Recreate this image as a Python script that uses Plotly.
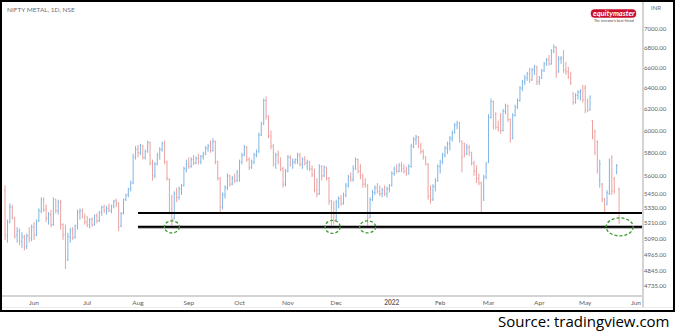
import math
import pandas as pd
import plotly.graph_objects as go

# ---- trading calendar (NSE holidays inside the window) ----
nse_holidays = [
    "2021-07-21", "2021-08-19", "2021-09-10", "2021-10-15", "2021-11-05",
    "2021-11-19", "2022-01-26", "2022-03-01", "2022-03-18", "2022-04-14",
    "2022-04-15", "2022-05-03",
]
dates = [d for d in pd.bdate_range("2021-05-14", "2022-05-23")
         if d.strftime("%Y-%m-%d") not in nse_holidays]

# ---- NIFTY METAL daily OHLC ----
open_ = [
    5480, 5110, 5220, 5340, 5250, 5120, 5150, 5070, 5100, 5030, 5110, 5090, 5180, 5120, 5230, 5310,
    5400, 5320, 5250, 5280, 5200, 5400, 5310, 5380, 5200, 5120, 4930, 5100, 5160, 5100, 5190, 5300,
    5310, 5260, 5220, 5200, 5240, 5200, 5270, 5230, 5300, 5340, 5310, 5330, 5310, 5350, 5390, 5370,
    5190, 5290, 5400, 5440, 5490, 5540, 5760, 5830, 5800, 5860, 5760, 5810, 5890, 5710, 5600, 5700,
    5780, 5830, 5880, 5720, 5570, 5330, 5250, 5450, 5420, 5490, 5520, 5660, 5700, 5680, 5740, 5710,
    5750, 5720, 5770, 5790, 5840, 5860, 5820, 5900, 5720, 5580, 5340, 5440, 5500, 5600, 5530, 5580,
    5560, 5600, 5720, 5780, 5850, 5740, 5670, 5720, 5780, 5810, 5960, 6060, 6280, 6130, 5950, 5860,
    5700, 5780, 5720, 5660, 5530, 5640, 5760, 5700, 5720, 5740, 5780, 5700, 5740, 5710, 5720, 5660,
    5610, 5480, 5450, 5680, 5600, 5670, 5580, 5390, 5260, 5240, 5380, 5410, 5370, 5440, 5520, 5590,
    5570, 5660, 5740, 5640, 5600, 5530, 5520, 5260, 5400, 5460, 5500, 5470, 5450, 5480, 5450, 5490,
    5520, 5620, 5660, 5640, 5690, 5660, 5640, 5620, 5680, 5860, 5920, 5940, 5860, 5810, 5760, 5700,
    5430, 5400, 5510, 5560, 5680, 5720, 5780, 5840, 5880, 5930, 5980, 6050, 6070, 5900, 5880, 5790,
    5850, 5800, 5710, 5640, 5580, 5540, 5400, 5590, 5720, 6120, 6270, 6150, 6030, 6100, 6000, 6180,
    6230, 6100, 5930, 6140, 6220, 6280, 6400, 6460, 6500, 6540, 6480, 6580, 6610, 6460, 6500, 6570,
    6640, 6680, 6640, 6770, 6810, 6560, 6690, 6700, 6580, 6560, 6510, 6350, 6260, 6330, 6360, 6420,
    6400, 6280, 6190, 6090, 5990, 5900, 5560, 5530, 5410, 5360, 5450, 5760, 5580, 5625, 5490,
]
high = [
    5520, 5240, 5370, 5360, 5260, 5180, 5170, 5140, 5120, 5130, 5180, 5200, 5220, 5240, 5330, 5420,
    5420, 5360, 5300, 5320, 5420, 5410, 5400, 5400, 5210, 5200, 5135, 5175, 5180, 5200, 5320, 5330,
    5330, 5290, 5270, 5250, 5260, 5280, 5290, 5310, 5350, 5360, 5350, 5370, 5360, 5400, 5410, 5380,
    5300, 5410, 5450, 5500, 5560, 5790, 5860, 5870, 5880, 5870, 5830, 5910, 5900, 5740, 5720, 5800,
    5850, 5900, 5910, 5730, 5580, 5440, 5470, 5500, 5510, 5530, 5680, 5740, 5760, 5760, 5780, 5770,
    5790, 5780, 5810, 5860, 5880, 5910, 5930, 5910, 5730, 5590, 5460, 5520, 5620, 5610, 5600, 5620,
    5650, 5740, 5800, 5870, 5860, 5760, 5740, 5800, 5830, 5980, 6080, 6300, 6320, 6140, 6000, 5880,
    5800, 5820, 5760, 5680, 5660, 5780, 5780, 5750, 5750, 5800, 5800, 5760, 5770, 5740, 5730, 5690,
    5660, 5580, 5700, 5690, 5690, 5680, 5590, 5400, 5390, 5400, 5430, 5440, 5460, 5540, 5610, 5630,
    5690, 5760, 5750, 5700, 5620, 5580, 5530, 5420, 5480, 5520, 5540, 5520, 5500, 5520, 5510, 5530,
    5640, 5680, 5700, 5710, 5720, 5700, 5680, 5700, 5880, 5940, 5960, 5950, 5890, 5830, 5770, 5710,
    5520, 5530, 5580, 5700, 5740, 5800, 5860, 5900, 5950, 6000, 6070, 6090, 6080, 5910, 5890, 5880,
    5870, 5810, 5730, 5690, 5620, 5550, 5610, 5720, 6150, 6300, 6280, 6170, 6090, 6160, 6200, 6250,
    6240, 6110, 6160, 6240, 6300, 6420, 6480, 6530, 6560, 6600, 6600, 6630, 6620, 6520, 6590, 6660,
    6700, 6730, 6790, 6840, 6820, 6720, 6720, 6780, 6660, 6610, 6560, 6360, 6350, 6380, 6390, 6430,
    6430, 6300, 6330, 6095, 6010, 5910, 5740, 5540, 5415, 5480, 5750, 5780, 5590, 5700, 5500,
]
low = [
    5080, 5060, 5210, 5240, 5090, 5060, 5040, 5020, 5000, 5010, 5060, 5070, 5080, 5110, 5220, 5290,
    5300, 5220, 5200, 5180, 5190, 5290, 5280, 5160, 5080, 4860, 4920, 5060, 5080, 5090, 5160, 5240,
    5250, 5200, 5180, 5170, 5180, 5190, 5210, 5220, 5270, 5290, 5280, 5300, 5290, 5330, 5340, 5150,
    5180, 5280, 5390, 5420, 5470, 5530, 5740, 5760, 5780, 5740, 5740, 5800, 5690, 5560, 5580, 5690,
    5740, 5810, 5700, 5560, 5280, 5190, 5240, 5380, 5400, 5440, 5510, 5630, 5660, 5670, 5690, 5700,
    5700, 5700, 5740, 5780, 5810, 5800, 5810, 5700, 5560, 5300, 5320, 5410, 5480, 5510, 5520, 5540,
    5550, 5550, 5700, 5770, 5720, 5650, 5660, 5700, 5760, 5800, 5950, 6050, 6100, 5930, 5830, 5680,
    5660, 5700, 5640, 5500, 5510, 5630, 5680, 5660, 5700, 5700, 5680, 5660, 5690, 5650, 5640, 5590,
    5460, 5420, 5440, 5560, 5590, 5560, 5360, 5190, 5200, 5230, 5330, 5350, 5360, 5420, 5500, 5550,
    5550, 5650, 5620, 5570, 5500, 5500, 5190, 5250, 5390, 5440, 5450, 5430, 5420, 5430, 5420, 5460,
    5510, 5600, 5620, 5630, 5630, 5620, 5600, 5610, 5670, 5840, 5870, 5840, 5790, 5740, 5690, 5400,
    5370, 5390, 5470, 5550, 5620, 5700, 5760, 5790, 5820, 5900, 5970, 6010, 5890, 5630, 5760, 5780,
    5770, 5690, 5600, 5540, 5520, 5300, 5390, 5570, 5710, 6110, 6010, 6010, 5990, 5970, 5990, 6150,
    6080, 5890, 5920, 6130, 6200, 6270, 6370, 6430, 6470, 6450, 6470, 6530, 6430, 6430, 6490, 6560,
    6620, 6620, 6630, 6750, 6500, 6550, 6640, 6550, 6530, 6490, 6430, 6240, 6250, 6290, 6280, 6260,
    6160, 6170, 6185, 5920, 5780, 5620, 5500, 5380, 5295, 5355, 5440, 5440, 5450, 5615, 5205,
]
close = [
    5120, 5220, 5340, 5260, 5110, 5150, 5070, 5110, 5030, 5110, 5090, 5180, 5120, 5230, 5310, 5400,
    5320, 5250, 5280, 5200, 5400, 5310, 5380, 5200, 5120, 4920, 5110, 5160, 5100, 5190, 5300, 5310,
    5260, 5220, 5200, 5240, 5200, 5270, 5230, 5300, 5340, 5310, 5330, 5310, 5350, 5390, 5370, 5180,
    5290, 5400, 5440, 5490, 5540, 5760, 5830, 5800, 5860, 5760, 5810, 5890, 5710, 5600, 5700, 5780,
    5830, 5880, 5720, 5580, 5300, 5240, 5450, 5420, 5490, 5520, 5660, 5700, 5680, 5740, 5710, 5750,
    5720, 5770, 5790, 5840, 5860, 5820, 5900, 5720, 5580, 5340, 5440, 5500, 5600, 5530, 5580, 5560,
    5630, 5720, 5780, 5850, 5740, 5670, 5720, 5780, 5810, 5960, 6060, 6280, 6130, 5950, 5860, 5700,
    5780, 5720, 5660, 5530, 5640, 5760, 5700, 5720, 5740, 5780, 5700, 5740, 5710, 5720, 5660, 5610,
    5480, 5450, 5680, 5600, 5670, 5580, 5390, 5260, 5230, 5380, 5410, 5370, 5440, 5520, 5590, 5570,
    5660, 5740, 5640, 5600, 5530, 5520, 5250, 5400, 5460, 5500, 5470, 5450, 5480, 5450, 5490, 5520,
    5620, 5660, 5640, 5690, 5660, 5640, 5620, 5680, 5860, 5920, 5940, 5860, 5810, 5760, 5700, 5430,
    5400, 5510, 5560, 5680, 5720, 5780, 5840, 5880, 5930, 5980, 6050, 6070, 5910, 5760, 5790, 5850,
    5800, 5710, 5640, 5580, 5540, 5380, 5590, 5700, 6120, 6270, 6040, 6030, 6010, 6000, 6180, 6230,
    6100, 5930, 6140, 6220, 6280, 6400, 6460, 6500, 6540, 6480, 6580, 6610, 6460, 6500, 6570, 6640,
    6680, 6640, 6770, 6810, 6560, 6690, 6700, 6580, 6560, 6510, 6450, 6260, 6330, 6360, 6370, 6290,
    6190, 6190, 6310, 5940, 5800, 5650, 5700, 5400, 5320, 5460, 5720, 5470, 5470, 5690, 5230,
]

# ---- drawn support band and its touches ----
support_upper = 5293
support_lower = 5182
support_start = "2021-08-02"
touch_dates = ["2021-08-23", "2021-11-29 12:00", "2021-12-20", "2022-05-23 06:00"]
touch_sizes = [(15, 12), (15, 13), (16, 12), (27, 18)]

# ---- axis ticks ----
y_ticks = [4735, 4845, 4965, 5090, 5210, 5330, 5450, 5600, 5800, 6000, 6200, 6400, 6600, 6800, 7000]
month_ticks = ["2021-06-01", "2021-07-01", "2021-08-02", "2021-09-01", "2021-10-01", "2021-11-01",
               "2021-12-01", "2022-01-03", "2022-02-01", "2022-03-02", "2022-04-01", "2022-05-02",
               "2022-06-01"]
month_labels = ["Jun", "Jul", "Aug", "Sep", "Oct", "Nov", "Dec", "<b>2022</b>", "Feb", "Mar",
                "Apr", "May", "Jun"]

UP = "#7fb6e6"
DOWN = "#eca0a0"
W, H = 675, 332
ML, MR, MT, MB = 2, 32, 2, 37
PW, PH = W - ML - MR, H - MT - MB
Y_RANGE = [math.log10(4672), math.log10(7295)]
X_RANGE = ["2021-05-12 18:00", "2022-06-03 21:30"]


def px(x):
    return (x - ML) / PW


def py(y):
    return (H - MB - y) / PH


def price_to_paper(p):
    return (math.log10(p) - Y_RANGE[0]) / (Y_RANGE[1] - Y_RANGE[0])


def rounded_rect(x0, y0, x1, y1, r):
    """SVG path (paper coords) for a pill-shaped badge given pixel corners."""
    rx, ry = r / PW, r / PH
    a, b, c, d = px(x0), px(x1), py(y1), py(y0)
    return (f"M{a + rx},{c} L{b - rx},{c} Q{b},{c} {b},{c + ry} L{b},{d - ry} "
            f"Q{b},{d} {b - rx},{d} L{a + rx},{d} Q{a},{d} {a},{d - ry} "
            f"L{a},{c + ry} Q{a},{c} {a + rx},{c} Z")


fig = go.Figure(go.Ohlc(
    x=dates, open=open_, high=high, low=low, close=close,
    increasing=dict(line=dict(color=UP, width=1)),
    decreasing=dict(line=dict(color=DOWN, width=1)),
    tickwidth=0.35, hoverinfo="skip",
))

shapes = [
    # support lines
    dict(type="line", xref="x", yref="paper", x0=support_start, x1=X_RANGE[1],
         y0=price_to_paper(support_upper), y1=price_to_paper(support_upper),
         line=dict(color="black", width=2)),
    dict(type="line", xref="x", yref="paper", x0=support_start, x1=X_RANGE[1],
         y0=price_to_paper(support_lower), y1=price_to_paper(support_lower),
         line=dict(color="#777", width=3)),
    dict(type="line", xref="x", yref="paper", x0=support_start, x1=X_RANGE[1],
         y0=price_to_paper(support_lower), y1=price_to_paper(support_lower),
         line=dict(color="black", width=1.6)),
    # pane separators
    dict(type="line", xref="paper", yref="paper", x0=1, x1=1, y0=py(2), y1=py(308),
         line=dict(color="#d4d4d4", width=2)),
    dict(type="line", xref="paper", yref="paper", x0=px(2), x1=px(673), y0=py(307.5), y1=py(307.5),
         line=dict(color="#ececec", width=1)),
    # outer frame
    dict(type="rect", xref="paper", yref="paper", x0=px(1), x1=px(674), y0=py(311), y1=py(1),
         line=dict(color="black", width=2)),
    # logo badge
    dict(type="path", xref="paper", yref="paper", path=rounded_rect(591, 9.5, 636, 17.5, 3.5),
         line=dict(color="#c8102e", width=0.5), fillcolor="#c8102e"),
]
for d, (w, h) in zip(touch_dates, touch_sizes):
    shapes.append(dict(
        type="circle", xref="x", yref="paper", xsizemode="pixel", ysizemode="pixel",
        xanchor=d, yanchor=price_to_paper(support_lower),
        x0=-w / 2, x1=w / 2, y0=-h / 2, y1=h / 2,
        line=dict(color="#3a9a2c", width=1.3, dash="3px,2px"),
    ))

annotations = [
    dict(x=px(5), y=py(9), xref="paper", yref="paper", xanchor="left", yanchor="middle",
         text="NIFTY METAL, 1D, NSE", showarrow=False, font=dict(size=6.5, color="#707070")),
    dict(x=px(649), y=py(7.5), xref="paper", yref="paper", xanchor="left", yanchor="middle",
         text="INR", showarrow=False, font=dict(size=6, color="#707070")),
    dict(x=px(613.5), y=py(13.3), xref="paper", yref="paper", xanchor="center", yanchor="middle",
         text="<b><i>equitymaster</i></b>", showarrow=False, font=dict(size=7.5, color="white")),
    dict(x=px(613.5), y=py(20.5), xref="paper", yref="paper", xanchor="center", yanchor="middle",
         text="The investor's best friend", showarrow=False, font=dict(size=3.6, color="#444")),
    dict(x=px(672), y=py(321.5), xref="paper", yref="paper", xanchor="right", yanchor="middle",
         text="Source: tradingview.com", showarrow=False,
         font=dict(size=15, color="black", family="Open Sans")),
]

fig.update_layout(
    width=W, height=H, margin=dict(l=ML, r=MR, t=MT, b=MB),
    paper_bgcolor="white", plot_bgcolor="white", showlegend=False,
    font=dict(family="Lato", size=6.5, color="#606060"),
    shapes=shapes, annotations=annotations,
)
fig.update_xaxes(
    type="date", range=X_RANGE,
    rangebreaks=[dict(bounds=["sat", "mon"]), dict(values=nse_holidays)],
    rangeslider=dict(visible=False),
    tickmode="array", tickvals=month_ticks, ticktext=month_labels,
    showgrid=False, zeroline=False, showline=True, linecolor="#d4d4d4", linewidth=2,
    ticks="", tickfont=dict(size=6.5, color="#606060"),
)
fig.update_yaxes(
    type="log", range=Y_RANGE, side="right",
    tickmode="array", tickvals=y_ticks, ticktext=[f"{v:.2f}" for v in y_ticks],
    showgrid=False, zeroline=False, showline=False,
    ticks="", tickfont=dict(size=6, color="#606060"),
)

fig.write_html("out.html")
